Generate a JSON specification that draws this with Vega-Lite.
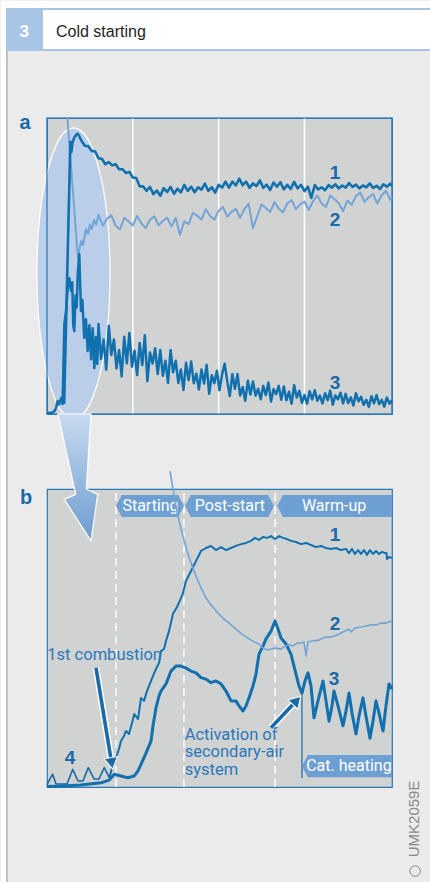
{
"$schema":"https://vega.github.io/schema/vega-lite/v6.json",
"background":"#ebebeb",
"padding":0,
"spacing":75,
"bounds":"flush",
"config":{
 "view":{"fill":"#d1d2d2","stroke":"#2b78b6","strokeWidth":1.2},
 "axisX":{"ticks":false,"domain":false,"grid":false,"labelFont":"Liberation Sans","labelFontSize":18,"labelColor":"#2274b4","titleFont":"Liberation Sans","titleFontSize":18,"titleFontWeight":"normal","titleColor":"#2274b4"},
 "axisY":{"disable":true},
 "text":{"font":"Liberation Sans"}
},
"datasets":{
 "a1":[{"t":1.0,"v":3.4},{"t":1.36,"v":92},{"t":1.42,"v":88.5},{"t":1.5,"v":92},{"t":1.6,"v":93.5},{"t":1.7,"v":94.3},{"t":1.79,"v":94.7},{"t":1.9,"v":93.6},{"t":2.0,"v":92.4},{"t":2.2,"v":90.6},{"t":2.4,"v":90.5},{"t":2.6,"v":88.9},{"t":2.8,"v":88.7},{"t":3.0,"v":86.4},{"t":3.2,"v":86.2},{"t":3.4,"v":84.4},{"t":3.6,"v":85.1},{"t":3.8,"v":84.0},{"t":4.0,"v":84.4},{"t":4.2,"v":82.7},{"t":4.4,"v":82.7},{"t":4.6,"v":81.4},{"t":4.8,"v":81.8},{"t":5.0,"v":79.9},{"t":5.2,"v":79.7},{"t":5.4,"v":76.9},{"t":5.6,"v":76.9},{"t":5.8,"v":75.4},{"t":6.0,"v":76.7},{"t":6.2,"v":74.3},{"t":6.4,"v":75.5},{"t":6.6,"v":73.7},{"t":6.8,"v":76.3},{"t":7.0,"v":75.0},{"t":7.2,"v":76.7},{"t":7.4,"v":74.4},{"t":7.6,"v":76.1},{"t":7.8,"v":74.9},{"t":8.0,"v":77.4},{"t":8.2,"v":75.4},{"t":8.4,"v":76.8},{"t":8.6,"v":74.9},{"t":8.8,"v":76.6},{"t":9.0,"v":75.8},{"t":9.2,"v":77.8},{"t":9.4,"v":75.4},{"t":9.6,"v":76.6},{"t":9.8,"v":74.8},{"t":10.0,"v":77.4},{"t":10.2,"v":76.5},{"t":10.4,"v":78.5},{"t":10.6,"v":76.5},{"t":10.8,"v":78.5},{"t":11.0,"v":77.2},{"t":11.2,"v":79.5},{"t":11.4,"v":77.3},{"t":11.6,"v":78.5},{"t":11.8,"v":76.4},{"t":12.0,"v":77.9},{"t":12.2,"v":77.0},{"t":12.4,"v":78.9},{"t":12.6,"v":76.4},{"t":12.8,"v":77.5},{"t":13.0,"v":75.7},{"t":13.2,"v":78.2},{"t":13.4,"v":76.8},{"t":13.6,"v":78.3},{"t":13.8,"v":75.9},{"t":14.0,"v":77.4},{"t":14.2,"v":76.0},{"t":14.4,"v":78.4},{"t":14.6,"v":76.2},{"t":14.8,"v":77.4},{"t":15.0,"v":75.3},{"t":15.2,"v":76.8},{"t":15.4,"v":73.0},{"t":15.6,"v":77.3},{"t":15.8,"v":75.9},{"t":16.0,"v":76.6},{"t":16.2,"v":75.6},{"t":16.4,"v":77.3},{"t":16.6,"v":76.5},{"t":16.8,"v":77.6},{"t":17.0,"v":76.2},{"t":17.2,"v":77.2},{"t":17.4,"v":76.5},{"t":17.6,"v":78.0},{"t":17.8,"v":76.7},{"t":18.0,"v":77.5},{"t":18.2,"v":76.2},{"t":18.4,"v":77.2},{"t":18.6,"v":76.6},{"t":18.8,"v":77.9},{"t":19.0,"v":76.4},{"t":19.2,"v":77.1},{"t":19.4,"v":76.0},{"t":19.6,"v":77.6},{"t":19.8,"v":76.8},{"t":20.0,"v":77.8},{"t":20.1,"v":77.0}],
 "a2":[{"t":1.19,"v":100},{"t":1.5,"v":76},{"t":1.8,"v":52.7},{"t":1.9,"v":56},{"t":2.0,"v":58.5},{"t":2.1,"v":57},{"t":2.27,"v":62.5},{"t":2.4,"v":61},{"t":2.5,"v":64},{"t":2.6,"v":62.5},{"t":2.75,"v":65.5},{"t":2.87,"v":64},{"t":3.0,"v":67.3},{"t":3.25,"v":63.6},{"t":3.5,"v":66.0},{"t":3.75,"v":67.1},{"t":4.0,"v":63.6},{"t":4.25,"v":62.4},{"t":4.5,"v":66.3},{"t":4.75,"v":65.1},{"t":5.0,"v":63.7},{"t":5.25,"v":66.9},{"t":5.5,"v":64.4},{"t":5.75,"v":62.8},{"t":6.0,"v":65.6},{"t":6.25,"v":66.8},{"t":6.5,"v":63.7},{"t":6.75,"v":65.3},{"t":7.0,"v":66.3},{"t":7.25,"v":63.3},{"t":7.5,"v":66.2},{"t":7.75,"v":60.5},{"t":8.0,"v":65.1},{"t":8.25,"v":64.1},{"t":8.5,"v":68.0},{"t":8.75,"v":67.0},{"t":9.0,"v":65.7},{"t":9.25,"v":69.2},{"t":9.5,"v":66.9},{"t":9.75,"v":65.7},{"t":10.0,"v":68.7},{"t":10.25,"v":69.9},{"t":10.5,"v":66.7},{"t":10.75,"v":68.3},{"t":11.0,"v":69.3},{"t":11.25,"v":66.3},{"t":11.5,"v":69.2},{"t":11.75,"v":71.0},{"t":12.0,"v":62.8},{"t":12.25,"v":66.9},{"t":12.5,"v":70.8},{"t":12.75,"v":69.6},{"t":13.0,"v":68.2},{"t":13.25,"v":71.6},{"t":13.5,"v":69.4},{"t":13.75,"v":68.1},{"t":14.0,"v":71.1},{"t":14.25,"v":72.3},{"t":14.5,"v":69.2},{"t":14.75,"v":70.8},{"t":15.0,"v":71.8},{"t":15.25,"v":68.9},{"t":15.5,"v":71.9},{"t":15.75,"v":73.8},{"t":16.0,"v":71.1},{"t":16.25,"v":69.9},{"t":16.5,"v":73.8},{"t":16.75,"v":72.6},{"t":17.0,"v":71.2},{"t":17.25,"v":68.5},{"t":17.5,"v":72.1},{"t":17.75,"v":70.7},{"t":18.0,"v":73.6},{"t":18.25,"v":74.8},{"t":18.5,"v":71.7},{"t":18.75,"v":73.3},{"t":19.0,"v":74.3},{"t":19.25,"v":71.1},{"t":19.5,"v":73.9},{"t":19.75,"v":75.4},{"t":20.0,"v":72.4},{"t":20.1,"v":73.3}],
 "a3":[{"t":0,"v":0.4},{"t":0.25,"v":0.3},{"t":0.45,"v":1.0},{"t":0.55,"v":2.5},{"t":0.62,"v":4.4},{"t":0.7,"v":3.2},{"t":0.82,"v":5.4},{"t":0.91,"v":3.4},{"t":1.01,"v":30.4},{"t":1.11,"v":34.8},{"t":1.21,"v":42.6},{"t":1.3,"v":45.9},{"t":1.4,"v":41.6},{"t":1.47,"v":44.5},{"t":1.53,"v":30},{"t":1.59,"v":28},{"t":1.66,"v":40},{"t":1.73,"v":36},{"t":1.79,"v":47.3},{"t":1.88,"v":54},{"t":1.98,"v":34.8},{"t":2.06,"v":38.5},{"t":2.17,"v":25.7},{"t":2.27,"v":32},{"t":2.37,"v":21.3},{"t":2.47,"v":30},{"t":2.57,"v":18.5},{"t":2.66,"v":29},{"t":2.76,"v":15.5},{"t":2.85,"v":26},{"t":2.93,"v":17},{"t":3.0,"v":30.4},{"t":3.15,"v":18.6},{"t":3.3,"v":25.2},{"t":3.45,"v":15.0},{"t":3.6,"v":29.8},{"t":3.75,"v":19.9},{"t":3.9,"v":25.2},{"t":4.05,"v":15.4},{"t":4.2,"v":21.6},{"t":4.35,"v":12.7},{"t":4.5,"v":26.1},{"t":4.65,"v":17.1},{"t":4.8,"v":27.4},{"t":4.95,"v":16.0},{"t":5.1,"v":21.4},{"t":5.25,"v":13.1},{"t":5.4,"v":24.0},{"t":5.55,"v":16.5},{"t":5.7,"v":26.6},{"t":5.85,"v":11.1},{"t":6.0,"v":20.8},{"t":6.15,"v":17.1},{"t":6.3,"v":22.2},{"t":6.45,"v":13.5},{"t":6.6,"v":21.6},{"t":6.75,"v":12.9},{"t":6.9,"v":18.0},{"t":7.05,"v":10.5},{"t":7.2,"v":21.6},{"t":7.35,"v":14.1},{"t":7.5,"v":18.0},{"t":7.65,"v":10.5},{"t":7.8,"v":15.0},{"t":7.95,"v":8.1},{"t":8.1,"v":17.3},{"t":8.25,"v":11.5},{"t":8.4,"v":17.7},{"t":8.55,"v":10.4},{"t":8.7,"v":13.6},{"t":8.85,"v":8.3},{"t":9.0,"v":15.0},{"t":9.15,"v":10.3},{"t":9.3,"v":16.6},{"t":9.45,"v":6.8},{"t":9.6,"v":13.1},{"t":9.75,"v":10.4},{"t":9.9,"v":14.6},{"t":10.05,"v":8.0},{"t":10.2,"v":13.4},{"t":10.35,"v":17.0},{"t":10.5,"v":11.1},{"t":10.65,"v":6.1},{"t":10.8,"v":13.5},{"t":10.95,"v":8.5},{"t":11.1,"v":13.5},{"t":11.25,"v":6.2},{"t":11.4,"v":9.1},{"t":11.55,"v":4.5},{"t":11.7,"v":11.2},{"t":11.85,"v":6.6},{"t":12.0,"v":11.0},{"t":12.15,"v":6.2},{"t":12.3,"v":8.5},{"t":12.45,"v":5.0},{"t":12.6,"v":9.5},{"t":12.75,"v":6.4},{"t":12.9,"v":10.6},{"t":13.05,"v":4.2},{"t":13.2,"v":8.4},{"t":13.35,"v":6.7},{"t":13.5,"v":9.5},{"t":13.65,"v":4.8},{"t":13.8,"v":9.3},{"t":13.95,"v":4.6},{"t":14.1,"v":7.5},{"t":14.25,"v":3.5},{"t":14.4,"v":9.7},{"t":14.55,"v":5.6},{"t":14.7,"v":7.8},{"t":14.85,"v":3.8},{"t":15.0,"v":6.4},{"t":15.15,"v":3.5},{"t":15.3,"v":7.7},{"t":15.45,"v":4.9},{"t":15.6,"v":8.0},{"t":15.75,"v":4.5},{"t":15.9,"v":6.2},{"t":16.05,"v":3.6},{"t":16.2,"v":7.0},{"t":16.35,"v":4.7},{"t":16.5,"v":7.9},{"t":16.65,"v":3.1},{"t":16.8,"v":6.3},{"t":16.95,"v":5.0},{"t":17.1,"v":7.2},{"t":17.25,"v":3.6},{"t":17.4,"v":6.8},{"t":17.55,"v":3.7},{"t":17.7,"v":5.6},{"t":17.85,"v":2.9},{"t":18.0,"v":7.0},{"t":18.15,"v":4.3},{"t":18.3,"v":5.8},{"t":18.45,"v":3.1},{"t":18.6,"v":4.8},{"t":18.75,"v":2.4},{"t":18.9,"v":6.0},{"t":19.05,"v":3.6},{"t":19.2,"v":6.4},{"t":19.35,"v":3.3},{"t":19.5,"v":4.8},{"t":19.65,"v":2.5},{"t":19.8,"v":5.6},{"t":19.95,"v":3.5},{"t":20.1,"v":4.6}],
 "lab_a":[{"t":16.78,"v":81.3,"txt":"1"},{"t":16.78,"v":65.4,"txt":"2"},{"t":16.78,"v":10.6,"txt":"3"}],
 "grid_a":[{"t":5},{"t":10},{"t":15}],
 "b1":[{"u":18.06,"v":3.1},{"u":19.04,"v":7.0},{"u":20.0,"v":9.8},{"u":20.87,"v":12.8},{"u":21.45,"v":15.4},{"u":22.32,"v":17.1},{"u":22.9,"v":18.8},{"u":23.77,"v":17.8},{"u":24.64,"v":21.5},{"u":25.3,"v":24.5},{"u":26.38,"v":22.8},{"u":27.25,"v":29.9},{"u":28.12,"v":28.9},{"u":28.99,"v":32.2},{"u":30.14,"v":35.6},{"u":31.59,"v":39.6},{"u":32.46,"v":41.6},{"u":33.04,"v":45.6},{"u":33.91,"v":46.3},{"u":34.49,"v":49.0},{"u":35.36,"v":52.3},{"u":36.52,"v":58.1},{"u":37.68,"v":60.4},{"u":38.84,"v":63.4},{"u":39.42,"v":65.1},{"u":40.29,"v":69.1},{"u":41.74,"v":72.5},{"u":43.19,"v":75.8},{"u":44.64,"v":79.2},{"u":46.09,"v":80.2},{"u":47.54,"v":80.9},{"u":48.99,"v":79.5},{"u":50.43,"v":80.5},{"u":51.88,"v":79.5},{"u":53.33,"v":80.2},{"u":54.78,"v":80.9},{"u":56.23,"v":81.5},{"u":57.68,"v":81.9},{"u":59.13,"v":82.6},{"u":60.29,"v":83.6},{"u":61.45,"v":82.9},{"u":62.61,"v":83.9},{"u":63.77,"v":83.6},{"u":64.93,"v":84.2},{"u":66.09,"v":83.2},{"u":67.25,"v":84.2},{"u":68.41,"v":83.6},{"u":69.57,"v":83.2},{"u":70.72,"v":82.6},{"u":72.17,"v":82.2},{"u":73.62,"v":81.5},{"u":75.07,"v":81.9},{"u":76.52,"v":81.2},{"u":77.97,"v":80.5},{"u":79.42,"v":80.9},{"u":80.87,"v":80.2},{"u":82.32,"v":79.9},{"u":83.77,"v":80.2},{"u":85.22,"v":79.5},{"u":86.67,"v":79.9},{"u":87.54,"v":78.5},{"u":88.41,"v":79.9},{"u":89.28,"v":78.2},{"u":90.14,"v":79.5},{"u":91.01,"v":78.2},{"u":91.88,"v":79.5},{"u":92.75,"v":77.9},{"u":93.62,"v":79.5},{"u":94.49,"v":78.2},{"u":95.36,"v":79.2},{"u":96.23,"v":78.2},{"u":97.1,"v":78.9},{"u":97.97,"v":78.5},{"u":98.41,"v":78.5},{"u":98.55,"v":76.5},{"u":99.13,"v":77.2},{"u":100,"v":76.8}],
 "b2":[{"u":35.65,"v":106.0},{"u":36.52,"v":100.0},{"u":37.39,"v":94.3},{"u":38.26,"v":89.3},{"u":39.42,"v":84.2},{"u":40.58,"v":79.2},{"u":41.74,"v":75.2},{"u":43.19,"v":70.8},{"u":44.64,"v":66.8},{"u":46.09,"v":63.4},{"u":47.54,"v":61.1},{"u":49.28,"v":58.7},{"u":51.01,"v":56.7},{"u":52.75,"v":55.0},{"u":54.78,"v":53.0},{"u":56.52,"v":51.3},{"u":58.55,"v":49.7},{"u":60.0,"v":48.7},{"u":61.45,"v":48.0},{"u":62.61,"v":46.6},{"u":63.77,"v":46.0},{"u":64.93,"v":46.3},{"u":66.38,"v":46.6},{"u":67.83,"v":46.3},{"u":68.99,"v":47.3},{"u":70.14,"v":47.7},{"u":71.3,"v":47.3},{"u":72.46,"v":48.3},{"u":73.62,"v":48.3},{"u":74.49,"v":48.7},{"u":75.07,"v":44.0},{"u":75.65,"v":48.7},{"u":77.1,"v":49.0},{"u":78.84,"v":49.3},{"u":80.58,"v":50.3},{"u":82.32,"v":50.3},{"u":84.06,"v":51.0},{"u":85.8,"v":52.0},{"u":87.54,"v":53.0},{"u":88.12,"v":52.0},{"u":89.28,"v":53.4},{"u":91.01,"v":53.7},{"u":92.46,"v":54.0},{"u":93.91,"v":54.4},{"u":95.36,"v":54.4},{"u":96.81,"v":55.0},{"u":98.26,"v":55.0},{"u":100,"v":55.7}],
 "b3":[{"u":0,"v":0.2},{"u":4.06,"v":0.3},{"u":9.86,"v":0.7},{"u":15.65,"v":1.4},{"u":17.97,"v":2.3},{"u":19.51,"v":4.3},{"u":21.45,"v":3.7},{"u":23.39,"v":3.1},{"u":25.3,"v":3.7},{"u":26.38,"v":5.4},{"u":27.25,"v":7.6},{"u":28.7,"v":11.4},{"u":30.14,"v":15.4},{"u":30.72,"v":20.5},{"u":31.59,"v":26.6},{"u":32.46,"v":30.5},{"u":33.04,"v":32.2},{"u":34.49,"v":34.6},{"u":35.94,"v":38.9},{"u":37.39,"v":40.6},{"u":38.84,"v":40.6},{"u":40.29,"v":39.9},{"u":41.74,"v":38.9},{"u":43.19,"v":38.3},{"u":44.64,"v":36.7},{"u":46.09,"v":36.2},{"u":47.54,"v":35.0},{"u":48.99,"v":35.6},{"u":50.43,"v":34.6},{"u":51.88,"v":32.2},{"u":53.33,"v":28.9},{"u":54.78,"v":28.9},{"u":55.65,"v":27.2},{"u":56.81,"v":25.5},{"u":57.68,"v":27.2},{"u":58.55,"v":29.9},{"u":59.71,"v":33.9},{"u":60.58,"v":37.9},{"u":61.45,"v":44.6},{"u":62.61,"v":47.3},{"u":63.48,"v":49.7},{"u":64.93,"v":52.3},{"u":66.09,"v":55.7},{"u":66.96,"v":53.0},{"u":67.83,"v":50.0},{"u":69.28,"v":48.0},{"u":70.72,"v":44.6},{"u":72.17,"v":37.9},{"u":73.04,"v":33.9},{"u":73.91,"v":31.5},{"u":74.78,"v":35.6},{"u":75.65,"v":38.3},{"u":76.52,"v":33.9},{"u":77.39,"v":23.2},{"u":78.55,"v":28.9},{"u":80.0,"v":35.6},{"u":80.87,"v":28.9},{"u":81.74,"v":22.1},{"u":82.61,"v":27.2},{"u":83.19,"v":32.2},{"u":84.35,"v":27.2},{"u":85.8,"v":20.5},{"u":86.67,"v":25.5},{"u":87.54,"v":31.5},{"u":88.41,"v":24.8},{"u":89.57,"v":17.8},{"u":90.43,"v":23.8},{"u":91.59,"v":29.9},{"u":92.46,"v":23.8},{"u":93.62,"v":16.4},{"u":94.49,"v":22.1},{"u":95.36,"v":28.9},{"u":96.23,"v":24.8},{"u":97.39,"v":18.8},{"u":98.26,"v":27.2},{"u":99.13,"v":34.6},{"u":100,"v":32.9}],
 "b4":[{"u":0,"v":0.7},{"u":0.87,"v":2.7},{"u":1.65,"v":4.3},{"u":2.61,"v":1.0},{"u":5.8,"v":1.0},{"u":7.45,"v":5.9},{"u":8.99,"v":2.0},{"u":10.43,"v":2.0},{"u":11.97,"v":6.5},{"u":13.62,"v":2.7},{"u":15.07,"v":2.7},{"u":16.61,"v":6.5},{"u":18.06,"v":3.1}],
 "phase_lines":[{"u":20.0},{"u":39.7},{"u":66.1}],
 "tags":[{"phase":"Starting","start":20.0,"end":39.7,"mid":30.0,"top":98.0,"bot":90.6,"vm":94.3,"right":1},{"phase":"Post-start","start":40.0,"end":65.8,"mid":53.0,"top":98.0,"bot":90.6,"vm":94.3,"right":1},{"phase":"Warm-up","start":66.7,"end":100,"mid":83.2,"top":98.0,"bot":90.6,"vm":94.3,"right":0},{"phase":"Cat. heating","start":73.9,"end":100,"mid":87.5,"top":10.7,"bot":3.3,"vm":7.0,"right":0}],
 "funnel":[{"v":125.2,"ul":3.19,"ur":12.75},{"v":100.0,"ul":7.97,"ur":11.39},{"v":98.2,"ul":8.35,"ur":14.7},{"v":96.5,"ul":5.01,"ur":14.49},{"v":82.6,"ul":12.75,"ur":12.75}],
 "lab_b":[{"u":83.5,"v":84.5,"txt":"1"},{"u":83.5,"v":54.6,"txt":"2"},{"u":83.2,"v":36.4,"txt":"3"},{"u":6.67,"v":9.8,"txt":"4"}],
 "note_b":[{"u":39.9,"v":17.6,"txt":"Activation of"},{"u":39.9,"v":11.7,"txt":"secondary-air"},{"u":39.9,"v":5.7,"txt":"system"}]
},
"vconcat":[
{
 "width":345,"height":296,
 "layer":[
  {"data":{"values":[{}]},"mark":{"type":"rect","fill":"#ffffff"},"encoding":{"x":{"datum":-2.69,"axis":null},"x2":{"datum":-2.389},"y":{"datum":139.6,"axis":null},"y2":{"datum":-158.5}}},
  {"data":{"values":[{}]},"mark":{"type":"rect","fill":"#ffffff"},"encoding":{"x":{"datum":-2.69,"axis":null},"x2":{"datum":22.38},"y":{"datum":139.6,"axis":null},"y2":{"datum":137.16}}},
  {"data":{"values":[{}]},"mark":{"type":"rect","fill":"#a9c5e6"},"encoding":{"x":{"datum":-2.389,"axis":null},"x2":{"datum":22.38},"y":{"datum":137.16,"axis":null},"y2":{"datum":122.64}}},
  {"data":{"values":[{}]},"mark":{"type":"rect","fill":"#ffffff"},"encoding":{"x":{"datum":-0.233,"axis":null},"x2":{"datum":22.38},"y":{"datum":136.49,"axis":null},"y2":{"datum":123.31}}},
  {"data":{"values":[{}]},"mark":{"type":"rect","fill":"#c2c2c2"},"encoding":{"x":{"datum":-2.389,"axis":null},"x2":{"datum":-2.273},"y":{"datum":122.64,"axis":null},"y2":{"datum":-158.5}}},
  {"data":{"values":[{}]},"mark":{"type":"text","text":"3","font":"Liberation Sans","fontSize":17,"fontWeight":"bold","color":"#ffffff","align":"center","baseline":"middle"},"encoding":{"x":{"datum":-1.323,"axis":null},"y":{"datum":129.05,"axis":null}}},
  {"data":{"values":[{}]},"mark":{"type":"text","text":"Cold starting","font":"Liberation Sans","fontSize":16,"color":"#1e1e1e","align":"left","baseline":"middle"},"encoding":{"x":{"datum":0.524,"axis":null},"y":{"datum":129.2,"axis":null}}},
  {"data":{"values":[{}]},"mark":{"type":"text","text":"a","font":"Liberation Sans","fontSize":20,"fontWeight":"bold","color":"#1a6aa8","align":"center","baseline":"alphabetic"},"encoding":{"x":{"datum":-1.28,"axis":null},"y":{"datum":96.3,"axis":null}}},
  {"data":{"name":"grid_a"},"mark":{"type":"rule","color":"#ffffff","strokeWidth":1.5},"encoding":{"x":{"field":"t","type":"quantitative","axis":null},"y":{"datum":0,"axis":null},"y2":{"datum":100}}},
  {"data":{"values":[{}]},"mark":{"type":"point","shape":"M 0 -1 A 0.251 1 0 0 1 0 1 A 0.251 1 0 0 1 0 -1 Z","size":84681,"filled":true,"fill":"#b9cdea","fillOpacity":0.92,"stroke":"#ffffff","strokeWidth":1.2,"opacity":1},"encoding":{"x":{"datum":1.544,"axis":null},"y":{"datum":47.5,"axis":null}}},
  {"data":{"values":[{}]},"mark":{"type":"rect","fillOpacity":0,"stroke":"#2b78b6","strokeWidth":1.2},"encoding":{"x":{"datum":0,"axis":null},"x2":{"datum":20.1},"y":{"datum":0,"axis":null},"y2":{"datum":100}}},
  {"data":{"name":"a2"},"mark":{"type":"line","color":"#72a5d6","strokeWidth":2,"strokeJoin":"round"},"encoding":{"x":{"field":"t","type":"quantitative","scale":{"domain":[0,20.1],"nice":false,"zero":false},"axis":null},"y":{"field":"v","type":"quantitative","scale":{"domain":[0,100],"nice":false,"zero":false},"axis":null}}},
  {"data":{"name":"a1"},"mark":{"type":"line","color":"#1170ae","strokeWidth":2.6,"strokeJoin":"round"},"encoding":{"x":{"field":"t","type":"quantitative","scale":{"domain":[0,20.1],"nice":false,"zero":false},"axis":{"title":"Time","values":[0,5,10,15,17.33,20],"labelExpr":"datum.value > 17 && datum.value < 18 ? 's' : datum.label","labelAlign":{"condition":{"test":"datum.value == 20","value":"right"},"value":"center"},"labelBaseline":"middle","labelPadding":16,"titleY":40,"titleBaseline":"middle"}},"y":{"field":"v","type":"quantitative","scale":{"domain":[0,100],"nice":false,"zero":false},"axis":null}}},
  {"data":{"name":"a3"},"mark":{"type":"line","color":"#1170ae","strokeWidth":2.5,"strokeJoin":"round"},"encoding":{"x":{"field":"t","type":"quantitative","scale":{"domain":[0,20.1],"nice":false,"zero":false},"axis":null},"y":{"field":"v","type":"quantitative","scale":{"domain":[0,100],"nice":false,"zero":false},"axis":null}}},
  {"data":{"name":"lab_a"},"mark":{"type":"text","font":"Liberation Sans","fontSize":19,"fontWeight":"bold","color":"#1a6aa8","align":"center","baseline":"middle"},"encoding":{"x":{"field":"t","type":"quantitative","axis":null},"y":{"field":"v","type":"quantitative","axis":null},"text":{"field":"txt"}}}
 ]
},
{
 "width":345,"height":298,
 "layer":[
  {"data":{"name":"phase_lines"},"mark":{"type":"rule","color":"#ffffff","strokeWidth":1.4,"strokeDash":[8,5]},"encoding":{"x":{"field":"u","type":"quantitative","scale":{"domain":[0,100],"nice":false,"zero":false},"axis":{"title":"Time","values":[98.6],"labelExpr":"'s'","labelBaseline":"middle","labelPadding":15,"titleY":15,"titleBaseline":"middle"}},"y":{"datum":0,"scale":{"domain":[0,100],"nice":false,"zero":false},"axis":null},"y2":{"datum":100}}},
  {"data":{"values":[{}]},"mark":{"type":"rule","color":"#1a6aa8","strokeWidth":1.2},"encoding":{"x":{"datum":73.9,"axis":null},"y":{"datum":31.4,"axis":null},"y2":{"datum":3.0}}},
  {"data":{"name":"b4"},"mark":{"type":"line","color":"#1a6aa8","strokeWidth":1.6,"strokeJoin":"round"},"encoding":{"x":{"field":"u","type":"quantitative","axis":null},"y":{"field":"v","type":"quantitative","axis":null}}},
  {"data":{"name":"b1"},"mark":{"type":"line","color":"#1170ae","strokeWidth":2.0,"strokeJoin":"round"},"encoding":{"x":{"field":"u","type":"quantitative","axis":null},"y":{"field":"v","type":"quantitative","axis":null}}},
  {"data":{"name":"b3"},"mark":{"type":"line","color":"#1170ae","strokeWidth":3.0,"strokeJoin":"round"},"encoding":{"x":{"field":"u","type":"quantitative","axis":null},"y":{"field":"v","type":"quantitative","axis":null}}},
  {"data":{"name":"tags"},"transform":[{"filter":"datum.right == 1"}],"mark":{"type":"rect","fill":"#6d9fd3","xOffset":5.4,"x2Offset":-5.4},"encoding":{"x":{"field":"start","type":"quantitative","axis":null},"x2":{"field":"end"},"y":{"field":"top","type":"quantitative","axis":null},"y2":{"field":"bot"}}},
  {"data":{"name":"tags"},"transform":[{"filter":"datum.right == 0"}],"mark":{"type":"rect","fill":"#6d9fd3","xOffset":5.4},"encoding":{"x":{"field":"start","type":"quantitative","axis":null},"x2":{"field":"end"},"y":{"field":"top","type":"quantitative","axis":null},"y2":{"field":"bot"}}},
  {"data":{"name":"tags"},"mark":{"type":"point","shape":"M 0.25 -0.957 L -0.25 0 L 0.25 0.957 Z","size":529,"filled":true,"fill":"#6d9fd3","opacity":1,"xOffset":2.9},"encoding":{"x":{"field":"start","type":"quantitative","axis":null},"y":{"field":"vm","type":"quantitative","axis":null}}},
  {"data":{"name":"tags"},"transform":[{"filter":"datum.right == 1"}],"mark":{"type":"point","shape":"M -0.25 -0.957 L 0.25 0 L -0.25 0.957 Z","size":529,"filled":true,"fill":"#6d9fd3","opacity":1,"xOffset":-2.9},"encoding":{"x":{"field":"end","type":"quantitative","axis":null},"y":{"field":"vm","type":"quantitative","axis":null}}},
  {"data":{"name":"tags"},"mark":{"type":"text","font":"Roboto","fontSize":16,"color":"#ffffff","align":"center","baseline":"middle"},"encoding":{"x":{"field":"mid","type":"quantitative","axis":null},"y":{"field":"vm","type":"quantitative","axis":null},"text":{"field":"phase"}}},
  {"data":{"name":"b2"},"mark":{"type":"line","color":"#72a5d6","strokeWidth":1.6,"strokeJoin":"round"},"encoding":{"x":{"field":"u","type":"quantitative","axis":null},"y":{"field":"v","type":"quantitative","axis":null}}},
  {"data":{"values":[{}]},"mark":{"type":"rule","color":"#ffffff","strokeWidth":6.5},"encoding":{"x":{"datum":14.2,"axis":null},"y":{"datum":40.0,"axis":null},"x2":{"datum":18.61},"y2":{"datum":8.93}}},
  {"data":{"values":[{}]},"mark":{"type":"rule","color":"#1a6aa8","strokeWidth":3.6},"encoding":{"x":{"datum":14.2,"axis":null},"y":{"datum":40.0,"axis":null},"x2":{"datum":18.61},"y2":{"datum":8.93}}},
  {"data":{"values":[{}]},"mark":{"type":"point","shape":"triangle-up","angle":170.7,"size":180,"filled":true,"fill":"#1a6aa8","stroke":"#ffffff","strokeWidth":1,"opacity":1},"encoding":{"x":{"datum":18.75,"axis":null},"y":{"datum":7.92,"axis":null}}},
  {"data":{"values":[{}]},"mark":{"type":"rule","color":"#ffffff","strokeWidth":6.5},"encoding":{"x":{"datum":64.93,"axis":null},"y":{"datum":19.9,"axis":null},"x2":{"datum":71.83},"y2":{"datum":28.36}}},
  {"data":{"values":[{}]},"mark":{"type":"rule","color":"#1a6aa8","strokeWidth":3.6},"encoding":{"x":{"datum":64.93,"axis":null},"y":{"datum":19.9,"axis":null},"x2":{"datum":71.83},"y2":{"datum":28.36}}},
  {"data":{"values":[{}]},"mark":{"type":"point","shape":"triangle-up","angle":43.4,"size":180,"filled":true,"fill":"#1a6aa8","stroke":"#ffffff","strokeWidth":1,"opacity":1},"encoding":{"x":{"datum":72.43,"axis":null},"y":{"datum":29.06,"axis":null}}},
  {"data":{"name":"lab_b"},"mark":{"type":"text","font":"Liberation Sans","fontSize":19,"fontWeight":"bold","color":"#1a6aa8","align":"center","baseline":"middle"},"encoding":{"x":{"field":"u","type":"quantitative","axis":null},"y":{"field":"v","type":"quantitative","axis":null},"text":{"field":"txt"}}},
  {"data":{"values":[{}]},"mark":{"type":"text","text":"1st combustion","font":"Roboto","fontSize":16.5,"color":"#2b78ba","align":"center","baseline":"middle"},"encoding":{"x":{"datum":16.7,"axis":null},"y":{"datum":44.3,"axis":null}}},
  {"data":{"name":"note_b"},"mark":{"type":"text","font":"Roboto","fontSize":16.5,"color":"#2b78ba","align":"left","baseline":"middle"},"encoding":{"x":{"field":"u","type":"quantitative","axis":null},"y":{"field":"v","type":"quantitative","axis":null},"text":{"field":"txt"}}},
  {"data":{"name":"funnel"},"mark":{"type":"area","orient":"horizontal","stroke":"#ffffff","strokeWidth":1.2,"fill":{"gradient":"linear","x1":0,"y1":0,"x2":0,"y2":1,"stops":[{"offset":0,"color":"#c8d9ef"},{"offset":1,"color":"#6c9dd1"}]}},"encoding":{"y":{"field":"v","type":"quantitative","axis":null},"x":{"field":"ul","type":"quantitative","axis":null},"x2":{"field":"ur"}}},
  {"data":{"values":[{}]},"mark":{"type":"text","text":"b","font":"Liberation Sans","fontSize":20,"fontWeight":"bold","color":"#1a6aa8","align":"center","baseline":"alphabetic"},"encoding":{"x":{"datum":-6.09,"axis":null},"y":{"datum":95.0,"axis":null}}},
  {"data":{"values":[{}]},"mark":{"type":"text","text":"UMK2059E","font":"Liberation Sans","fontSize":15,"color":"#8a8a8a","angle":270,"align":"center","baseline":"middle"},"encoding":{"x":{"datum":106.4,"axis":null},"y":{"datum":-10.7,"axis":null}}},
  {"data":{"values":[{}]},"mark":{"type":"point","shape":"circle","size":110,"filled":false,"stroke":"#8a8a8a","strokeWidth":1,"opacity":1},"encoding":{"x":{"datum":106.7,"axis":null},"y":{"datum":-28.2,"axis":null}}}
 ]
}
]
}
